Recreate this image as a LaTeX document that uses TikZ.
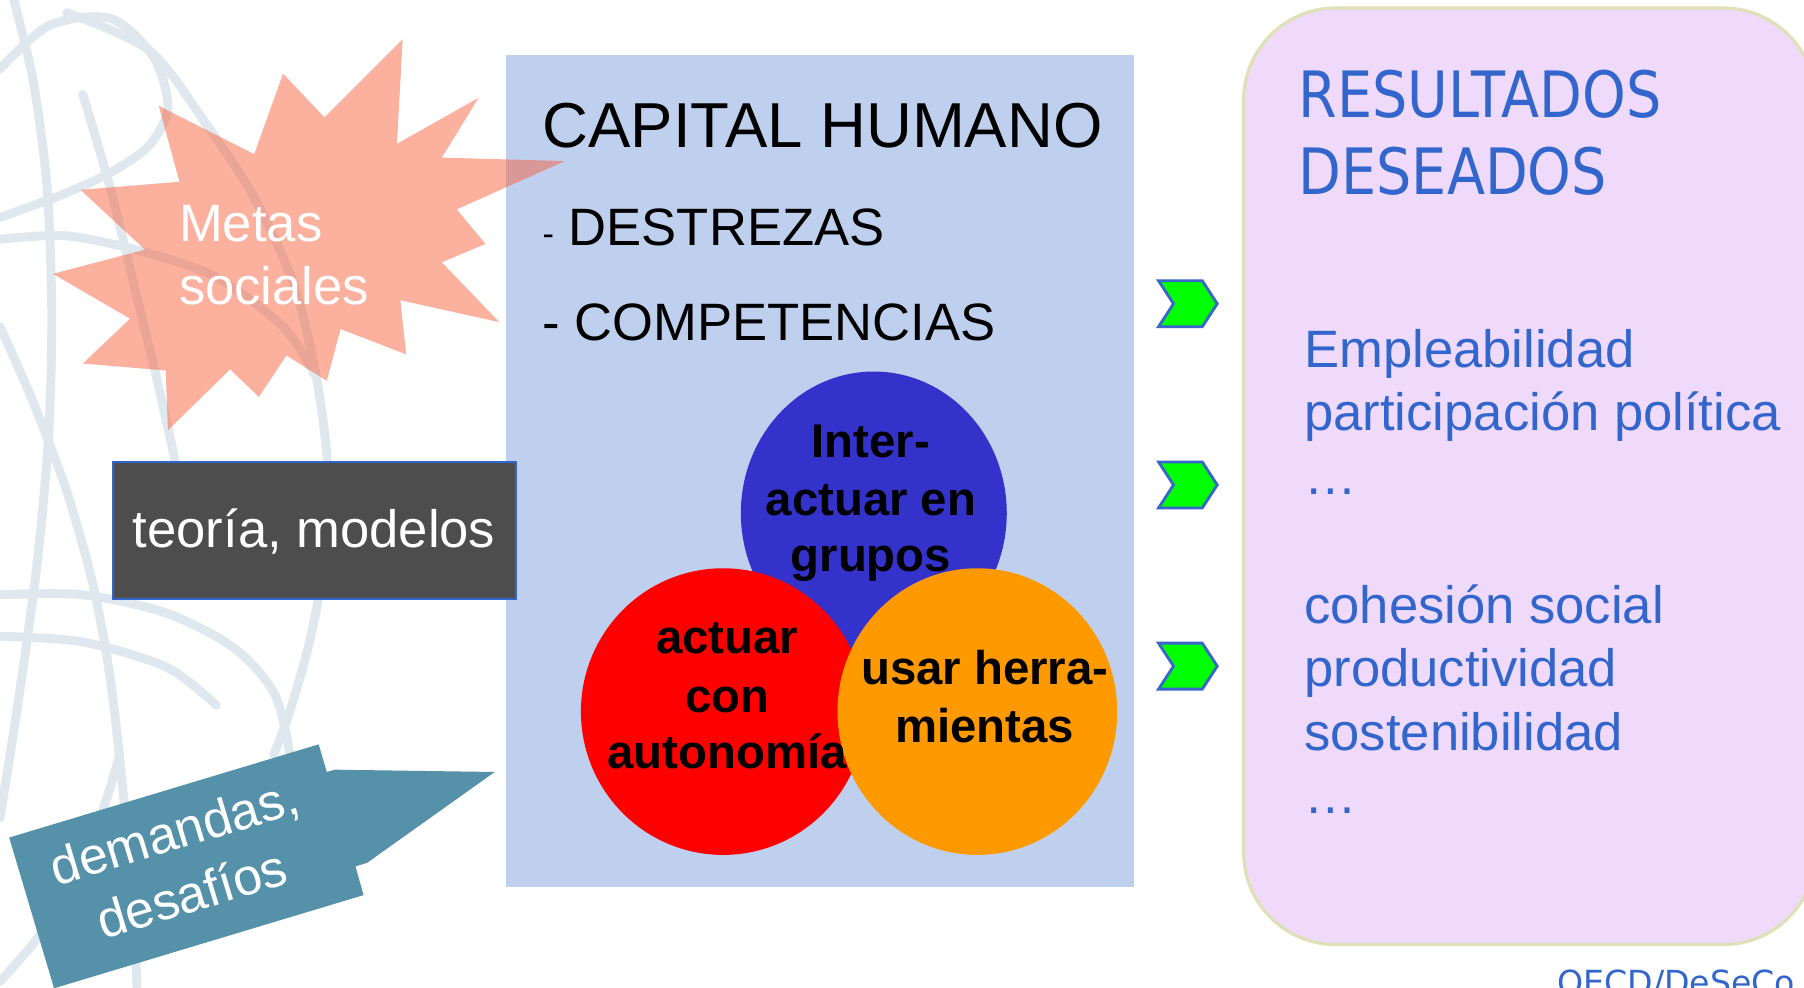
\documentclass[tikz,border=0pt]{standalone}
\usepackage{fontspec}
\setmainfont{Liberation Sans}
\newfontfamily\tahfont[FakeStretch=0.87]{DejaVu Sans}
\newfontfamily\dvsfont{DejaVu Sans}
\usetikzlibrary{shapes.geometric}
\definecolor{capblue}{HTML}{BFD0EE}
\definecolor{circblue}{HTML}{3333CC}
\definecolor{circred}{HTML}{FF0000}
\definecolor{circorange}{HTML}{FF9900}
\definecolor{darkbox}{HTML}{4D4D4D}
\definecolor{tealbox}{HTML}{5691AA}
\definecolor{starcol}{HTML}{F9542C}
\definecolor{chevgreen}{HTML}{00FF00}
\definecolor{chevborder}{HTML}{3A66CC}
\definecolor{lavender}{HTML}{F0DAFC}
\definecolor{pinkborder}{HTML}{E0E0B8}
\definecolor{titleblue}{HTML}{3366CC}
\definecolor{swirlcol}{HTML}{DFE8EE}
\begin{document}
\begin{tikzpicture}[x=0.01cm,y=-0.01cm,
  swirl/.style={draw=swirlcol,line width=2.2pt,line cap=round},
  circ/.style={ellipse,inner sep=0pt},
  ctext/.style={anchor=base,inner sep=0pt,font=\bfseries\fontsize{11.7}{14}\selectfont},
  captext/.style={anchor=base west,inner sep=0pt,text=black},
  restext/.style={anchor=base west,inner sep=0pt,text=titleblue,font=\fontsize{13}{15}\selectfont},
  chev/.style={fill=chevgreen,draw=chevborder,line width=0.7pt,line join=miter},
  whitetext/.style={inner sep=0pt,text=white,font=\fontsize{13}{15}\selectfont}]
\useasboundingbox (0,0) rectangle (1568,858);
\fill[white] (0,0) rectangle (1568,858);
% background swirl
\begin{scope}
\clip (0,0) rectangle (440,858);
\draw[swirl] plot[smooth] coordinates {(0,60) (43,22) (96,16) (133,49) (146,93) (130,126) (96,150) (52,170) (0,189)};
\draw[swirl] plot[smooth] coordinates {(12,0) (29,71) (41,164) (45,274) (42,383) (32,492) (17,602) (0,711)};
\draw[swirl] plot[smooth] coordinates {(0,284) (29,350) (58,427) (81,509) (96,591) (107,689) (116,793) (119,858)};
\draw[swirl] plot[smooth] coordinates {(58,11) (130,44) (180,109) (220,170) (255,246) (275,328) (285,410) (281,492) (269,558) (252,618) (238,656)};
\draw[swirl] plot[smooth] coordinates {(72,82) (96,164) (116,246) (136,328) (154,410) (162,465)};
\draw[swirl] plot[smooth] coordinates {(0,208) (58,205) (125,219) (188,241) (246,284) (275,328)};
\draw[swirl] plot[smooth] coordinates {(0,517) (72,517) (145,533) (203,563) (238,602) (252,656) (255,711)};
\draw[swirl] plot[smooth] coordinates {(0,553) (72,558) (145,580) (188,613)};
\draw[swirl] plot[smooth] coordinates {(0,853) (29,820) (58,777) (87,711) (104,656)};
\end{scope}
% capital humano box
\node[fill=capblue,minimum width=5.46cm,minimum height=7.23cm,inner sep=0pt,anchor=north west] (cap) at (439,47) {};
\node[captext,font=\fontsize{15.7}{18}\selectfont] (capt) at (471,128) {CAPITAL HUMANO};
\node[captext,font=\fontsize{13}{15}\selectfont] (dest) at (471,213) {{\fontsize{8.5}{10}\selectfont -} DESTREZAS};
\node[captext,font=\fontsize{13}{15}\selectfont] (comp) at (471,296) {- COMPETENCIAS};
% circles
\node[circ,fill=circblue,minimum width=2.31cm,minimum height=2.46cm] (cb) at (759.5,446) {};
\node[circ,fill=circred,minimum width=2.47cm,minimum height=2.49cm] (cr) at (628.5,618.5) {};
\node[circ,fill=circorange,minimum width=2.43cm,minimum height=2.49cm] (co) at (849.5,618.5) {};
\node[ctext] (cb1) at (757,398) {Inter-};
\node[ctext] (cb2) at (757,448) {actuar en};
\node[ctext] (cb3) at (757,497) {grupos};
\node[ctext] (cr1) at (632,568) {actuar};
\node[ctext] (cr2) at (632,619) {con};
\node[ctext] (cr3) at (632,668) {autonomía};
\node[ctext] (co1) at (856,595) {usar herra-};
\node[ctext] (co2) at (856,645) {mientas};
% starburst
\fill[starcol,fill opacity=0.45] (350,34) -- (345,125) -- (416,85) -- (384,137) -- (491,140) -- (397,182) -- (422,212) -- (384,228) -- (434,280) -- (348,261) -- (353,308) -- (296,286) -- (284,331) -- (249,309) -- (225,345) -- (200,321) -- (146,374) -- (144,322) -- (72,316) -- (113,277) -- (46,238) -- (126,217) -- (70,165) -- (156,158) -- (138,92) -- (221,134) -- (246,64) -- (282,102) -- cycle;
\node[whitetext,anchor=base west] (meta1) at (155,210) {Metas};
\node[whitetext,anchor=base west] (meta2) at (155,265) {sociales};
% teoria box
\node[fill=darkbox,draw=titleblue,line width=0.5pt,minimum width=3.50cm,minimum height=1.19cm,inner sep=0pt,anchor=north west] (teo) at (97,401) {};
\node[whitetext,anchor=base] (teot) at (273,476) {teoría, modelos};
% demandas callout
\fill[tealbox] (8,728) -- (277,647) -- (284,671) -- (291,669) -- (430,671) -- (319,750) -- (309,753) -- (316,778) -- (47,859) -- cycle;
\node[whitetext,anchor=base,rotate=16.8,font=\fontsize{12.8}{15}\selectfont] (dem1) at (156,738) {demandas,};
\node[whitetext,anchor=base,rotate=16.8,font=\fontsize{12.8}{15}\selectfont] (dem2) at (171,792) {desafíos};
% chevrons
\foreach \yy in {264,421.5,579}{
  \filldraw[chev] (1007,\yy-20) -- (1045,\yy-20) -- (1058,\yy) -- (1045,\yy+20) -- (1007,\yy+20) -- (1020,\yy) -- cycle;
}
% resultados box
\draw[fill=lavender,draw=pinkborder,line width=0.8pt,rounded corners=0.8cm] (1081,7) rectangle (1578,821);
\node[anchor=base west,inner sep=0pt,text=titleblue,font=\tahfont\fontsize{15.8}{19}\selectfont] (res1) at (1128,102) {RESULTADOS};
\node[anchor=base west,inner sep=0pt,text=titleblue,font=\tahfont\fontsize{15.8}{19}\selectfont] (res2) at (1128,169) {DESEADOS};
\node[restext] (r1) at (1133,319) {Empleabilidad};
\node[restext] (r2) at (1133,374) {participación política};
\node[restext] (r3) at (1133,430) {…};
\node[restext] (r4) at (1133,542) {cohesión social};
\node[restext] (r5) at (1133,597) {productividad};
\node[restext] (r6) at (1133,652) {sostenibilidad};
\node[restext] (r7) at (1133,707) {…};
\node[anchor=base west,inner sep=0pt,text=titleblue,font=\dvsfont\fontsize{8.2}{10}\selectfont] (oecd) at (1353,864) {OECD/DeSeCo};
\end{tikzpicture}
\end{document}
